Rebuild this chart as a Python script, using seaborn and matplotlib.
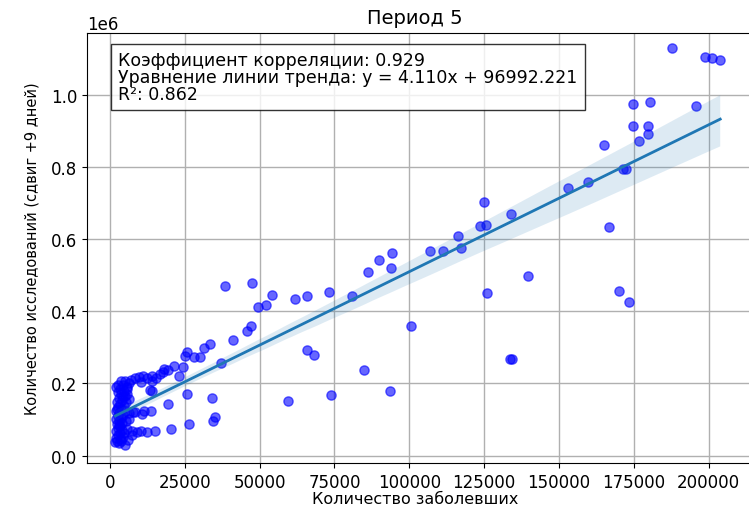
import numpy as np
import pandas as pd
import matplotlib
matplotlib.use("Agg")
import matplotlib.pyplot as plt
import seaborn as sns

# ---- data (x: cases, y: tests shifted +9 days) ----
cluster_x = [1800, 2400, 3000, 3600, 2100, 4200, 2700, 3300, 1900, 4000, 2600, 3400, 2200, 4100,
             2900, 1900, 3700, 2500, 4400, 3100, 2100, 3800, 2700, 4600, 3300, 2300, 4100, 2900,
             5000, 3600, 2600, 4500, 3300, 5500, 4200, 6300, 5100, 7000, 5800, 6500, 5200, 6400,
             7600, 5000, 6000, 7200, 4600, 5600, 7500, 3800, 5300, 6200,
             2000, 2800, 3500, 4300, 2300, 3100, 4900, 5700]
cluster_y = [38000, 42000, 36000, 45000, 50000, 52000, 58000, 62000, 68000, 70000, 76000, 82000,
             88000, 90000, 96000, 102000, 104000, 110000, 112000, 118000, 124000, 128000, 134000,
             138000, 144000, 150000, 154000, 160000, 164000, 170000, 176000, 180000, 186000,
             190000, 196000, 200000, 206000, 210000, 172000, 158000, 148000, 118000, 121000,
             30000, 44000, 56000, 62000, 75000, 68000, 40000, 95000, 102000,
             190000, 197000, 208000, 165000, 130000, 85000, 125000, 185000]

arc_x = [8200, 9600, 11000, 12500, 13900, 15300, 16600, 17800, 18000, 19500, 21300, 23200, 24500,
         10500, 14000, 8400, 10600, 11500, 13700, 8900, 10400, 12300, 15000, 20400, 26500]
arc_y = [214000, 217000, 221000, 215000, 222000, 214000, 226000, 233000, 241000, 238000, 247000,
         222000, 245000, 205000, 206000, 121000, 116000, 124000, 123000, 66000, 68000, 67000,
         68000, 75000, 87000]

spread_x = [13400, 13900, 19500, 25800, 25100, 25600, 28100, 30100, 31400, 33400, 37000, 34200,
            35100, 34500, 38400, 41200, 45700, 47000, 47400, 49400, 52000, 54200, 59500, 61800,
            65700, 65900, 68200, 73200, 73800, 80800, 84700, 86100, 89900, 93400, 93800, 94100,
            100500, 106900, 111400, 116200, 117200, 123700, 125700, 124800, 126100, 133900,
            133500, 134300, 139600, 153000, 159600, 164900, 166700, 170000, 171500, 172400,
            173400, 174900, 174900, 176600, 179600, 179600, 180500, 187700, 195700, 198900,
            201100, 203900]
spread_y = [181000, 180000, 143000, 170000, 277000, 287000, 272000, 274000, 298000, 310000,
            256000, 160000, 107000, 95000, 469000, 319000, 346000, 358000, 478000, 413000,
            418000, 446000, 152000, 435000, 443000, 293000, 279000, 452000, 167000, 442000,
            238000, 508000, 542000, 180000, 519000, 561000, 358000, 566000, 566000, 608000,
            574000, 637000, 639000, 703000, 451000, 670000, 268000, 268000, 498000, 740000,
            759000, 860000, 633000, 457000, 794000, 794000, 425000, 974000, 914000, 871000,
            914000, 891000, 980000, 1130000, 967000, 1103000, 1100000, 1096000]

# statistics shown in the annotation box
corr_coef = 0.929
slope = 4.110
intercept = 96992.221
r_squared = 0.862

title = "Период 5"
x_label = "Количество заболевших"
y_label = "Количество исследований (сдвиг +9 дней)"
x_ticks = [0, 25000, 50000, 75000, 100000, 125000, 150000, 175000, 200000]

df = pd.DataFrame({
    "cases": cluster_x + arc_x + spread_x,
    "tests": cluster_y + arc_y + spread_y,
})

plt.rcParams["font.family"] = ["DejaVu Sans"]
fig = plt.figure(figsize=(7.49, 5.06), dpi=100)
ax = fig.add_axes([87 / 749, 42 / 506, 682 / 749, 430 / 506])

sns.regplot(data=df, x="cases", y="tests", ax=ax, seed=0,
            scatter_kws=dict(color="blue", alpha=0.6, s=44),
            line_kws=dict(color="#1f77b4", linewidth=2))

ax.set_xlim(-7700, 220200)
ax.set_ylim(-20200, 1170300)
ax.set_xticks(x_ticks)
ax.ticklabel_format(axis="y", style="sci", scilimits=(0, 0))
ax.grid(True, color="#b0b0b0", linewidth=1)
ax.set_axisbelow(True)

ax.tick_params(labelsize=12)
ax.yaxis.get_offset_text().set_fontsize(12)
ax.set_title(title, fontsize=14, pad=7, x=0.481)
ax.set_xlabel(x_label, fontsize=11.5, labelpad=0, x=0.481)
ax.set_ylabel(y_label, fontsize=10.5, labelpad=8)

box_text = (f"Коэффициент корреляции: {corr_coef:.3f}\n"
            f"Уравнение линии тренда: y = {slope:.3f}x + {intercept:.3f}\n"
            f"R²: {r_squared:.3f}")
ax.text(0.046, 0.958, box_text, transform=ax.transAxes, fontsize=12.5,
        va="top", ha="left", linespacing=0.92,
        bbox=dict(boxstyle="square,pad=0.4", facecolor="white", edgecolor="black", alpha=0.8))

fig.savefig("out.png", dpi=100)
